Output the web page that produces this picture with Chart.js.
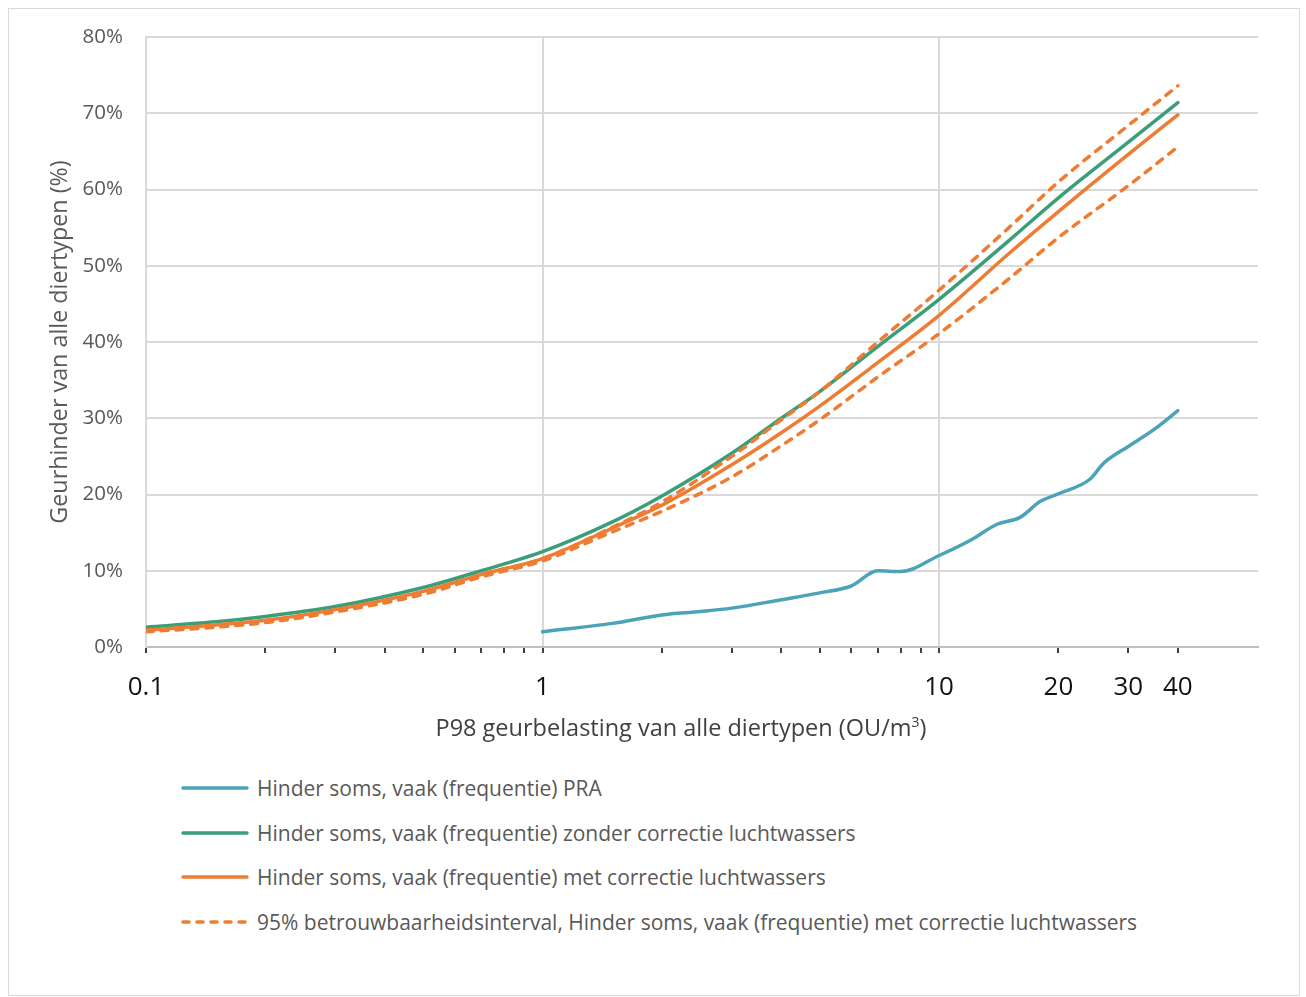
<!DOCTYPE html>
<html>
<head>
<meta charset="utf-8">
<title>Geurhinder en geurbelasting</title>
<script src="https://cdn.jsdelivr.net/npm/chart.js@4.4.1/dist/chart.umd.min.js"></script>
<style>
  html, body { margin: 0; padding: 0; background: #fff; }
  body { width: 1306px; height: 997px; position: relative; overflow: hidden; font-family: 'Open Sans', sans-serif; }
  #frame { position: absolute; left: 8px; top: 8px; width: 1292px; height: 988px; border: 1px solid #d9d9d9; box-sizing: border-box; }
  #plot { position: absolute; left: 0; top: 0; }
  #xtitle { position: absolute; left: 0; width: 1362px; top: 711px; line-height: 32px; text-align: center; font-size: 23.5px; color: #404040; white-space: nowrap; }
  #xtitle sup { font-size: 14px; vertical-align: 9px; line-height: 0; }
  .legend-row { position: absolute; left: 180px; height: 32px; display: flex; align-items: center; white-space: nowrap; }
  .legend-row svg { width: 70px; height: 10px; margin-right: 7px; flex: none; }
  .legend-row span { font-size: 21px; color: #595959; }
</style>
</head>
<body>
<div id="frame"></div>
<canvas id="plot" width="1306" height="770"></canvas>
<div id="xtitle">P98 geurbelasting van alle diertypen (OU/m<sup>3</sup>)</div>
<div id="legend"></div>
<script>
// Odour load (P98, OU/m3) at which the dose-response curves are evaluated
const doses = [0.1, 0.15, 0.2, 0.3, 0.5, 0.7, 1, 1.5, 2, 3, 4, 5, 7, 10, 15, 20, 30, 40];

// Percentage annoyed, all animal types
const withoutCorrection = [2.6, 3.3, 4.0, 5.3, 7.8, 10.0, 12.5, 16.4, 19.8, 25.4, 30.0, 33.5, 39.4, 45.6, 53.3, 58.9, 66.2, 71.4];
const withCorrection    = [2.2, 2.9, 3.5, 4.9, 7.3, 9.5, 11.6, 15.6, 18.6, 23.9, 28.1, 31.6, 37.3, 43.5, 51.6, 57.1, 64.6, 69.8];
const ciUpper           = [2.1, 2.8, 3.4, 4.8, 7.2, 9.5, 11.6, 15.7, 19.0, 25.0, 29.8, 33.5, 40.0, 46.8, 55.0, 61.0, 68.4, 73.6];
const ciLower           = [2.0, 2.6, 3.2, 4.6, 6.9, 9.2, 11.3, 15.1, 17.8, 22.3, 26.4, 29.8, 35.4, 41.1, 48.3, 53.7, 60.5, 65.6];

// PRA relation
const praDoses = [1, 1.5, 2, 2.5, 3, 4, 5, 6, 7, 8, 10, 12, 14, 16, 18, 20, 24, 26, 30, 35, 40];
const praValues = [2.0, 3.1, 4.2, 4.65, 5.1, 6.2, 7.1, 8.0, 10.0, 9.9, 12.0, 14.0, 16.1, 17.0, 19.1, 20.1, 22.0, 24.1, 26.3, 28.6, 31.0];

// Axis ticks
const xTickValues = [0.1, 0.2, 0.3, 0.4, 0.5, 0.6, 0.7, 0.8, 0.9, 1, 2, 3, 4, 5, 6, 7, 8, 9, 10, 20, 30, 40];
const xTickLabels = [0.1, 1, 10, 20, 30, 40];
const xGridValues = [1, 10];

const seriesLabels = [
  'Hinder soms, vaak (frequentie) PRA',
  'Hinder soms, vaak (frequentie) zonder correctie luchtwassers',
  'Hinder soms, vaak (frequentie) met correctie luchtwassers',
  '95% betrouwbaarheidsinterval, Hinder soms, vaak (frequentie) met correctie luchtwassers'
];

const BLUE = '#4ba3b8';
const GREEN = '#3a9f79';
const ORANGE = '#ee7d33';

const toPoints = (xs, ys) => xs.map((x, i) => ({ x: x, y: ys[i] }));

const lineStyle = {
  fill: false,
  pointRadius: 0,
  pointHoverRadius: 0,
  borderWidth: 3.5,
  borderCapStyle: 'round',
  borderJoinStyle: 'round',
  cubicInterpolationMode: 'monotone'
};

const datasets = [
  Object.assign({ label: seriesLabels[0], data: toPoints(praDoses, praValues), borderColor: BLUE, order: 5 }, lineStyle),
  Object.assign({ label: seriesLabels[1], data: toPoints(doses, withoutCorrection), borderColor: GREEN, order: 4 }, lineStyle),
  Object.assign({ label: seriesLabels[2], data: toPoints(doses, withCorrection), borderColor: ORANGE, order: 3 }, lineStyle),
  Object.assign({ label: seriesLabels[3], data: toPoints(doses, ciUpper), borderColor: ORANGE, borderDash: [7, 8], order: 2 }, lineStyle),
  Object.assign({ label: '', data: toPoints(doses, ciLower), borderColor: ORANGE, borderDash: [7, 8], order: 1, hideInLegend: true }, lineStyle)
];

const chart = new Chart(document.getElementById('plot'), {
  type: 'line',
  data: { datasets: datasets },
  options: {
    responsive: false,
    animation: false,
    events: [],
    layout: { padding: { top: 37, right: 48, bottom: 13, left: 0 } },
    plugins: { legend: { display: false }, tooltip: { enabled: false } },
    scales: {
      x: {
        type: 'logarithmic',
        min: 0.1,
        max: 63.7,
        afterBuildTicks: (scale) => { scale.ticks = xTickValues.map(v => ({ value: v })); },
        afterFit: (scale) => { scale.height = 110; },
        border: { display: true, color: '#bfbfbf', width: 2 },
        grid: {
          drawOnChartArea: true,
          drawTicks: true,
          tickLength: 6,
          lineWidth: 2,
          tickWidth: 2,
          color: (ctx) => (ctx.tick && xGridValues.includes(ctx.tick.value)) ? '#d9d9d9' : 'rgba(0,0,0,0)',
          tickColor: '#404040'
        },
        ticks: {
          autoSkip: false,
          maxRotation: 0,
          minRotation: 0,
          padding: 19,
          color: '#111111',
          font: { family: 'Open Sans', size: 26 },
          callback: (value) => xTickLabels.includes(value) ? String(value) : ''
        }
      },
      y: {
        min: 0,
        max: 80,
        afterFit: (scale) => { scale.width = 146; },
        border: { display: true, color: '#d9d9d9', width: 2 },
        grid: { color: '#d9d9d9', lineWidth: 2, drawTicks: false },
        ticks: {
          stepSize: 10,
          padding: 23,
          color: '#595959',
          font: { family: 'Open Sans', size: 20.5 },
          callback: (value) => value + '%'
        },
        title: {
          display: true,
          text: 'Geurhinder van alle diertypen (%)',
          color: '#595959',
          font: { family: 'Open Sans', size: 23.3 },
          padding: { top: 46, bottom: 0 }
        }
      }
    }
  }
});

// Legend built from the chart's own datasets
const legendEl = document.getElementById('legend');
const svgNS = 'http://www.w3.org/2000/svg';
chart.data.datasets.filter(ds => !ds.hideInLegend).forEach((ds, i) => {
  const row = document.createElement('div');
  row.className = 'legend-row';
  row.style.top = (772 + i * 44.7) + 'px';
  const svg = document.createElementNS(svgNS, 'svg');
  svg.setAttribute('viewBox', '0 0 70 10');
  const line = document.createElementNS(svgNS, 'line');
  line.setAttribute('x1', '3');
  line.setAttribute('x2', '67');
  line.setAttribute('y1', '5');
  line.setAttribute('y2', '5');
  line.setAttribute('stroke', ds.borderColor);
  line.setAttribute('stroke-width', '3.5');
  line.setAttribute('stroke-linecap', 'round');
  if (ds.borderDash) line.setAttribute('stroke-dasharray', '6 8');
  svg.appendChild(line);
  const text = document.createElement('span');
  text.textContent = ds.label;
  row.appendChild(svg);
  row.appendChild(text);
  legendEl.appendChild(row);
});
</script>
</body>
</html>
